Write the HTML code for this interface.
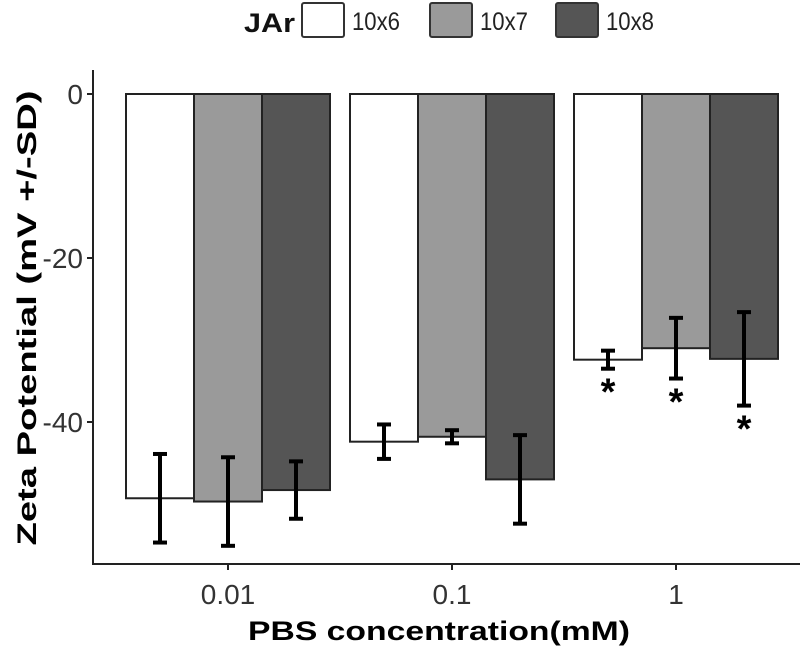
<!DOCTYPE html>
<html><head><meta charset="utf-8"><style>
body{margin:0;background:#fff;}
svg text{font-family:"Liberation Sans",sans-serif;}
</style></head><body>
<svg id="chart" width="800" height="647" viewBox="0 0 800 647">
<g id="legend">
<text x="244" y="32" font-size="27" font-weight="bold" fill="#111" textLength="51" lengthAdjust="spacingAndGlyphs">JAr</text>
</g>
<g id="axes"></g>
<g id="bars"></g>
<text x="439" y="640" text-anchor="middle" font-size="27" font-weight="bold" fill="#000" textLength="382" lengthAdjust="spacingAndGlyphs">PBS concentration(mM)</text>
<text transform="translate(36,318) rotate(-90)" text-anchor="middle" font-size="27" font-weight="bold" fill="#000" textLength="455" lengthAdjust="spacingAndGlyphs">Zeta Potential (mV +/-SD)</text>
</svg>
<script>
const categories=["0.01","0.1","1"];
const seriesNames=["10x6","10x7","10x8"];
const means10x6=[-49.3,-42.4,-32.4];
const means10x7=[-49.7,-41.8,-31.0];
const means10x8=[-48.3,-47.0,-32.3];
const sd10x6=[5.4,2.1,1.1];
const sd10x7=[5.4,0.8,3.7];
const sd10x8=[3.5,5.4,5.7];
const significant=[[false,false,true],[false,false,true],[false,false,true]];
const yTicks=[0,-20,-40];

const NS="http://www.w3.org/2000/svg";
const fills=["#ffffff","#9a9a9a","#555555"];
const means=[means10x6,means10x7,means10x8];
const sds=[sd10x6,sd10x7,sd10x8];
const y0=94, pxPerUnit=8.2;
function yScale(v){return y0 - v*pxPerUnit;}
const groupCenters0=228, groupStep=224, barW=68;
function xScale(ci,si){return groupCenters0+ci*groupStep+(si-1)*barW;}
function mk(tag,attrs,parent){const e=document.createElementNS(NS,tag);for(const k in attrs)e.setAttribute(k,attrs[k]);parent.appendChild(e);return e;}
const axes=document.getElementById('axes'), bars=document.getElementById('bars'), legend=document.getElementById('legend');

let a=mk('line',{x1:93,y1:70,x2:93,y2:565,stroke:'#222','stroke-width':2},axes);


a=mk('line',{x1:92,y1:564,x2:800,y2:564,stroke:'#222','stroke-width':2},axes);


yTicks.forEach(t=>{
  const y=yScale(t);
  const l=mk('line',{x1:87,y1:y,x2:93,y2:y,stroke:'#222','stroke-width':2},axes);
  
  
  const tx=mk('text',{x:83,y:y+10,'text-anchor':'end','font-size':28,fill:'#333'},axes);
  tx.textContent=String(t);
  
  
});
categories.forEach((c,ci)=>{
  const x=xScale(ci,1);
  const l=mk('line',{x1:x,y1:564,x2:x,y2:570,stroke:'#222','stroke-width':2},axes);
  
  
  const tx=mk('text',{x:x,y:604,'text-anchor':'middle','font-size':28,fill:'#333'},axes);
  tx.textContent=c;
  
  
});
categories.forEach((c,ci)=>{
  seriesNames.forEach((s,si)=>{
    const cx=xScale(ci,si), v=means[si][ci], sd=sds[si][ci];
    const r=mk('rect',{x:cx-barW/2,y:yScale(0),width:barW,height:yScale(v)-yScale(0),fill:fills[si],stroke:'#222','stroke-width':2},bars);
    
    
    const yt=yScale(v+sd), yb=yScale(v-sd);
    const g=mk('g',{stroke:'#000','stroke-width':4},bars);
    
    
    mk('line',{x1:cx,y1:yt,x2:cx,y2:yb},g);
    mk('line',{x1:cx-7,y1:yt,x2:cx+7,y2:yt},g);
    mk('line',{x1:cx-7,y1:yb,x2:cx+7,y2:yb},g);
    if(significant[si][ci]){
      const st=mk('text',{x:cx,y:yb+36,'text-anchor':'middle','font-size':38,'font-weight':'bold',fill:'#000'},bars);
      st.textContent='*';
      
      
    }
  });
});
const lx=[302,430,556];
seriesNames.forEach((s,si)=>{
  const r=mk('rect',{x:lx[si],y:3,width:42,height:34,rx:2,fill:fills[si],stroke:'#333','stroke-width':2},legend);
  
  
  const t=mk('text',{x:lx[si]+50,y:30,'font-size':25,fill:'#222',textLength:48,lengthAdjust:'spacingAndGlyphs'},legend);
  t.textContent=s;
  
  
});
</script>
</body></html>
